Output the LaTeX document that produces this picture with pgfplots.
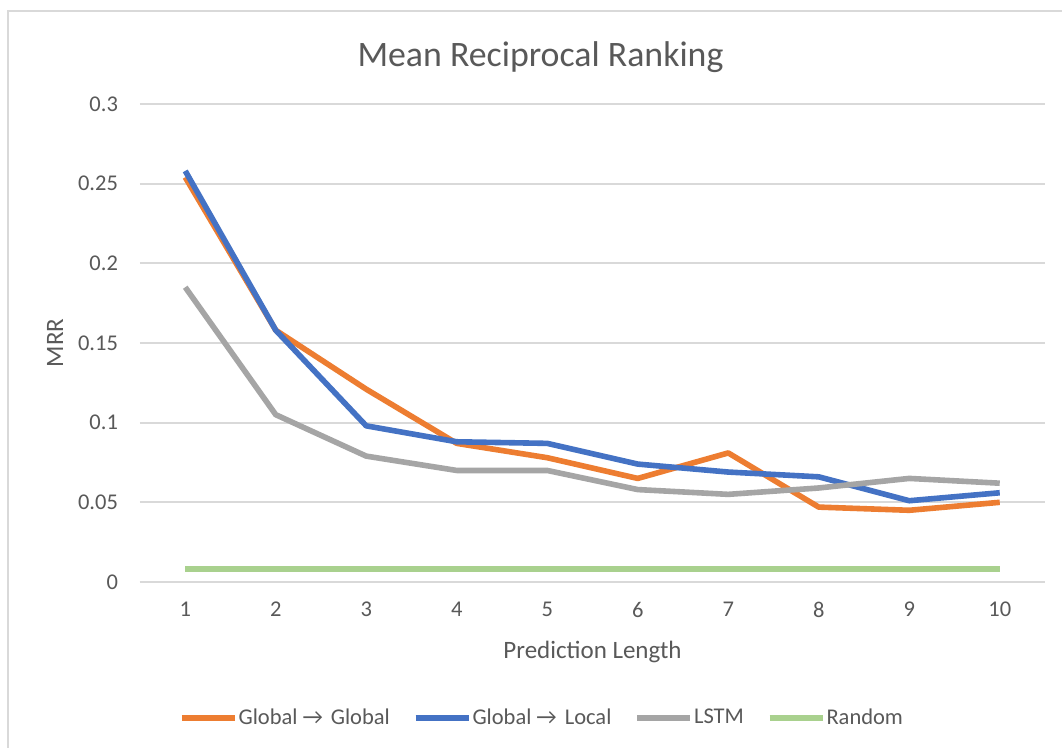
\documentclass[border=0pt]{standalone}
\usepackage{pgfplots}
\pgfplotsset{compat=1.18}
\usepackage{fontspec}
\setmainfont{Carlito}
\definecolor{cOrange}{HTML}{ED7D31}
\definecolor{cBlue}{HTML}{4472C4}
\definecolor{cGray}{HTML}{A5A5A5}
\definecolor{cGreen}{HTML}{A9D18E}
\definecolor{cText}{HTML}{595959}
\definecolor{cGrid}{HTML}{D9D9D9}
\newcommand{\arr}{\kern2.5pt→\kern4pt}
\begin{document}
\begin{tikzpicture}[x=0.5pt,y=0.5pt]
% bounding box: pixel px -> (px-140), py -> (582-py)
\useasboundingbox[fill=white] (-140,-166) rectangle (922,582);
\draw[cGrid,line width=1.2pt] (-132,-166) -- (-132,571) -- (922,571);
\begin{axis}[
  at={(0pt,0pt)}, anchor=origin,
  scale only axis, width=452.5pt, height=239pt,
  xmin=0.5, xmax=10.5, ymin=0, ymax=0.3,
  xtick={1,...,10}, ytick={0,0.05,...,0.3},
  yticklabels={0,0.05,0.1,0.15,0.2,0.25,0.3},
  axis line style={draw=none},
  axis x line*=bottom,
  tick style={draw=none},
  ymajorgrids, grid style={cGrid,line width=0.9pt},
  extra y ticks={0}, extra y tick labels={},
  extra y tick style={grid style={cGrid,line width=1.1pt}},
  ticklabel style={font=\fontsize{11.25}{13}\selectfont, text=cText},
  /pgf/number format/assume math mode=true,
  yticklabel style={xshift=-7.5pt},
  xticklabel style={yshift=-6.5pt},
  xlabel={Prediction Length}, ylabel={MRR},
  label style={font=\fontsize{12.5}{14}\selectfont, text=cText},
  xlabel style={at={(axis description cs:0.5,0)}, anchor=center, yshift=-35pt},
  ylabel style={at={(axis description cs:0,0.5)}, anchor=center, yshift=42.5pt},
  title={Mean Reciprocal Ranking},
  title style={font=\fontsize{17.9}{20}\selectfont, text=cText, at={(axis description cs:0.5,1)}, xshift=-26pt, yshift=6pt},
  legend columns=4,
  legend style={draw=none, fill=none, at={(axis description cs:0.5,0)}, anchor=center, xshift=-25.5pt, yshift=-68pt,
    font=\fontsize{11.25}{13}\selectfont, text=cText,
    nodes={inner xsep=0.5pt},
    /tikz/every even column/.append style={column sep=11pt},
    inner xsep=0pt, inner ysep=0pt},
  legend image code/.code={\draw[#1,line width=2.8pt] (0pt,0pt) -- (26.5pt,0pt);},
  every axis plot/.append style={line width=2.8pt, line join=round},
]
\addplot[cOrange] coordinates {(1,0.254) (2,0.158) (3,0.121) (4,0.087) (5,0.078) (6,0.065) (7,0.081) (8,0.047) (9,0.045) (10,0.050)};
\addlegendentry{Global\arr Global}
\addplot[cBlue] coordinates {(1,0.258) (2,0.158) (3,0.098) (4,0.088) (5,0.087) (6,0.074) (7,0.069) (8,0.066) (9,0.051) (10,0.056)};
\addlegendentry{Global\arr Local}
\addplot[cGray] coordinates {(1,0.185) (2,0.105) (3,0.079) (4,0.070) (5,0.070) (6,0.058) (7,0.055) (8,0.059) (9,0.065) (10,0.062)};
\addlegendentry{LSTM}
\addplot[cGreen] coordinates {(1,0.008) (2,0.008) (3,0.008) (4,0.008) (5,0.008) (6,0.008) (7,0.008) (8,0.008) (9,0.008) (10,0.008)};
\addlegendentry{Random}
\end{axis}
\end{tikzpicture}
\end{document}
